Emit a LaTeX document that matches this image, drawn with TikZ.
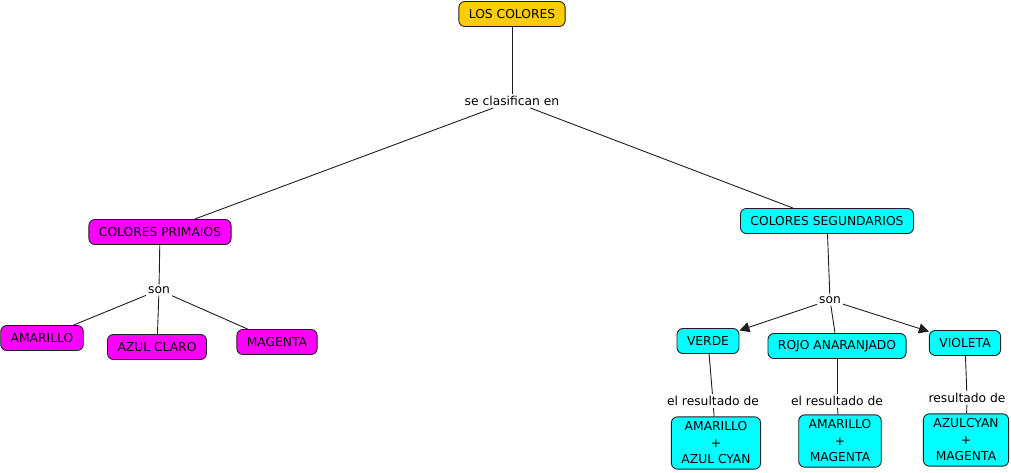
\documentclass[tikz,border=0pt]{standalone}
\usepackage{fontspec}
\setmainfont{DejaVu Sans}
\usetikzlibrary{arrows.meta}

\definecolor{conceptgold}{RGB}{255,204,0}
\definecolor{conceptmagenta}{RGB}{255,0,255}
\definecolor{conceptcyan}{RGB}{0,255,255}
\definecolor{edgegray}{RGB}{30,30,30}

\begin{document}
\begin{tikzpicture}[x=1pt,y=-1pt,
        concept/.style={draw=edgegray,line width=0.9pt,rounded corners=6pt,align=center,
            inner xsep=10pt,inner ysep=5pt,minimum height=25pt,
            font=\fontsize{12.3}{16.5}\selectfont},
        linklabel/.style={inner sep=2pt,font=\fontsize{12.3}{15}\selectfont},
        link/.style={draw=edgegray,line width=0.9pt}]
        \useasboundingbox (0,0) rectangle (1011,473);
        % Top concept
        \node[concept,fill=conceptgold] (colores) at (512,14) {LOS COLORES};
        \node[linklabel] (clasifican) at (512,101) {se clasifican en};
        % Primary colours
        \node[concept,fill=conceptmagenta] (primarios) at (160,232) {COLORES PRIMAIOS};
        \node[linklabel] (sonp) at (159,290) {son};
        \node[concept,fill=conceptmagenta] (amarillo) at (42,338) {AMARILLO};
        \node[concept,fill=conceptmagenta] (azulclaro) at (157,347) {AZUL CLARO};
        \node[concept,fill=conceptmagenta] (magenta) at (277,342) {MAGENTA};
        % Secondary colours
        \node[concept,fill=conceptcyan] (secundarios) at (827,221) {COLORES SEGUNDARIOS};
        \node[linklabel] (sons) at (830,300) {son};
        \node[concept,fill=conceptcyan] (verde) at (708,341) {VERDE};
        \node[concept,fill=conceptcyan] (rojo) at (837,346) {ROJO ANARANJADO};
        \node[concept,fill=conceptcyan] (violeta) at (965,343) {VIOLETA};
        \node[linklabel] (resverde) at (713,401) {el resultado de};
        \node[linklabel] (resrojo) at (837,401) {el resultado de};
        \node[linklabel] (resvioleta) at (967,398) {resultado de};
        \node[concept,fill=conceptcyan] (mixverde) at (716,443) {AMARILLO\\+\\AZUL CYAN};
        \node[concept,fill=conceptcyan] (mixrojo) at (840,441) {AMARILLO\\+\\MAGENTA};
        \node[concept,fill=conceptcyan] (mixvioleta) at (966,440) {AZULCYAN\\+\\MAGENTA};

        % Draw links
        \draw[link] (colores) -- (clasifican);
        \draw[link] (clasifican) -- (primarios);
        \draw[link] (clasifican) -- (secundarios);
        \draw[link] (primarios) -- (sonp);
        \draw[link] (sonp) -- (amarillo);
        \draw[link] (sonp) -- (azulclaro);
        \draw[link] (sonp) -- (magenta);
        \draw[link] (secundarios) -- (sons);
        \draw[link,-{Triangle[length=10pt,width=10pt]}] (sons) -- (verde);
        \draw[link] (sons) -- (rojo);
        \draw[link,-{Triangle[length=10pt,width=10pt]}] (sons) -- (violeta);
        \draw[link] (verde) -- (resverde);
        \draw[link] (resverde) -- (mixverde);
        \draw[link] (rojo) -- (resrojo);
        \draw[link] (resrojo) -- (mixrojo);
        \draw[link] (violeta) -- (resvioleta);
        \draw[link] (resvioleta) -- (mixvioleta);
    \end{tikzpicture}
\end{document}
